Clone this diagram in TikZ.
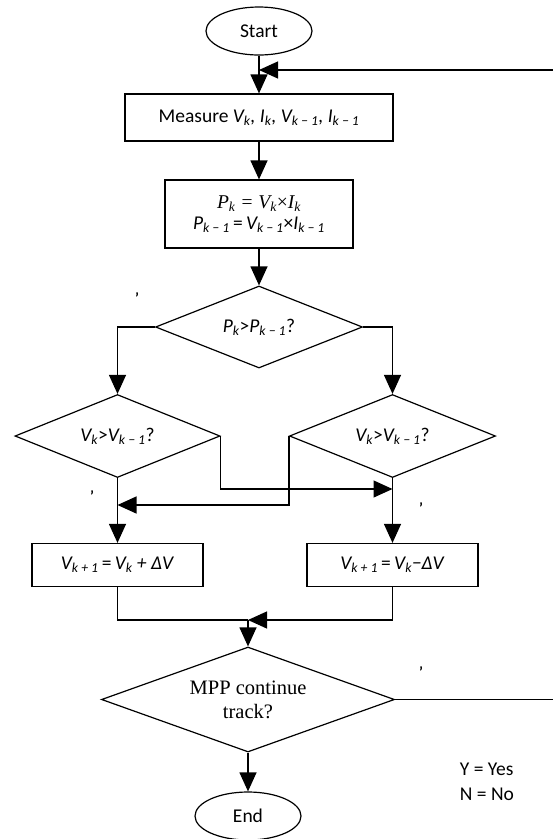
\documentclass[tikz,border=0pt]{standalone}
\usepackage{fontspec}
\setmainfont{Carlito}
\newfontfamily\tnr{Liberation Serif}
\usetikzlibrary{positioning,shapes.geometric,arrows.meta}
\tikzset{>={Triangle[length=19pt,width=17pt]}}
\tikzset{
  base/.style={font=\fontsize{19.5}{23}\selectfont, line width=1.2pt},
  terminal/.style={base, draw, ellipse, minimum width=106pt, minimum height=48pt, inner sep=0pt},
  process/.style={base, draw, rectangle, inner sep=0pt, align=center},
  decision/.style={base, draw, diamond, inner sep=0pt, aspect=2.5},
  tick/.style={font=\bfseries\fontsize{15}{15}\selectfont, inner sep=0pt}
}
\newcommand\lo[1]{\textsubscript{#1}}

\begin{document}
\begin{tikzpicture}[x=1pt, y=-1pt, line width=1.2pt]
      \useasboundingbox (0,0) rectangle (553,839);
      \node[terminal] (start) at (259,31) {Start};
      \node[process, below of=start, node distance=86.5pt, minimum width=268pt, minimum height=47pt] (meas) {Measure \textit{V\lo{k}, I\lo{k}, V\lo{k − 1}, I\lo{k − 1}}};
      \node[process, below of=meas, node distance=96.5pt, minimum width=188pt, minimum height=68pt] (pwr) {{\tnr\itshape P\lo{k} = V\lo{k}\upshape×\itshape I\lo{k}}\\[-2pt]\textit{P\lo{k − 1}}\,=\,\textit{V\lo{k − 1}}×\textit{I\lo{k − 1}}};
      \node[decision, below of=pwr, node distance=113pt, minimum width=207pt, minimum height=82pt] (cmpP) {\textit{P\lo{k}}>\textit{P\lo{k − 1}}?};
      \coordinate[below of=cmpP, node distance=109pt] (aux1);
      \node[decision, left of=aux1, node distance=141.5pt, minimum width=205pt, minimum height=83pt] (cmpL) {\textit{V\lo{k}}>\textit{V\lo{k − 1}}?};
      \node[decision, right of=aux1, node distance=133.5pt, minimum width=206pt, minimum height=83pt] (cmpR) {\textit{V\lo{k}}>\textit{V\lo{k − 1}}?};
      \node[process, below of=cmpL, node distance=129pt, minimum width=171pt, minimum height=43pt] (incV) {\textit{V\lo{k + 1}}\,=\,\textit{V\lo{k} + ΔV}};
      \node[process, below of=cmpR, node distance=129pt, minimum width=171pt, minimum height=43pt] (decV) {\textit{V\lo{k + 1}}\,=\,\textit{V\lo{k}−ΔV}};
      \node[decision, minimum width=293pt, minimum height=105pt, font=\tnr\fontsize{20.5}{24}\selectfont, align=center] (mpp) at (248,699.5) {MPP continue\\track?};
      \node[terminal, below of=mpp, node distance=116.5pt] (end) {End};
      \node[base, anchor=west, align=left, font=\fontsize{19.5}{25}\selectfont] (legend) at (456,782) {Y = Yes\\N = No};
      % stray marks
      \node[tick] (t1) at (137,298) {\symbol{"27}};
      \node[tick] (t2) at (92,496) {\symbol{"27}};
      \node[tick] (t3) at (421,508) {\symbol{"27}};
      \node[tick] (t4) at (421,672) {\symbol{"27}};
      \coordinate[below of=start, node distance=39pt] (aux0);
      \coordinate[right of=aux0, node distance=301pt] (aux2);
      \coordinate[below of=cmpL, node distance=69pt] (aux3);
      \coordinate[below of=cmpR, node distance=53pt] (aux4);
      \coordinate[above of=mpp, node distance=79.5pt] (aux5);
      \draw[->] (start) -- (meas);
      \draw[->] (mpp.east) -| (aux2) -- (aux0);
      \draw[->] (meas) -- (pwr);
      \draw[->] (pwr) -- (cmpP);
      \draw[->] (cmpP.west) -| (cmpL.north);
      \draw[->] (cmpP.east) -| (cmpR.north);
      \draw[->] (cmpL.east) |- (aux4);
      \draw[->] (cmpR.west) |- (aux3);
      \draw[->] (cmpL) -- (incV);
      \draw[->] (cmpR) -- (decV);
      \draw (incV.south) |- (aux5);
      \draw[->] (decV.south) |- (aux5);
      \draw[->] (aux5) -- (mpp);
      \draw[->] (mpp) -- (end);
    \end{tikzpicture}
\end{document}
